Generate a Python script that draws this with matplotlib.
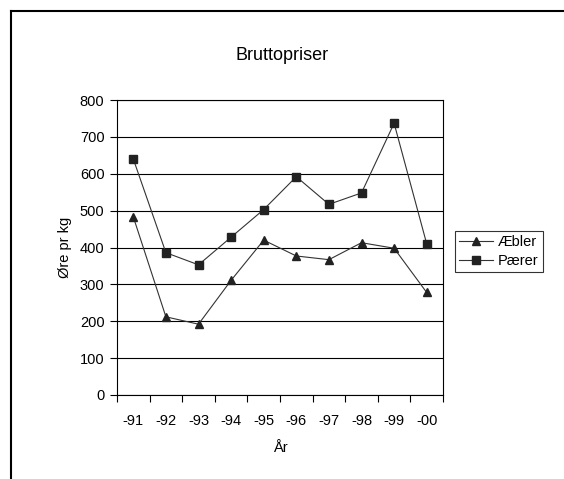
import numpy as np
import matplotlib.pyplot as plt
from matplotlib.lines import Line2D

plt.rcParams['font.family'] = ['Liberation Sans', 'DejaVu Sans']

years = ['-91', '-92', '-93', '-94', '-95', '-96', '-97', '-98', '-99', '-00']
aebler = [483, 212, 192, 311, 420, 377, 367, 413, 398, 278]
paerer = [640, 386, 353, 428, 503, 592, 517, 548, 737, 410]

fig = plt.figure(figsize=(5.64, 4.79), dpi=100)
ax = fig.add_axes([117 / 564, 84 / 479, 326 / 564, 295 / 479])

x = np.arange(len(years))
ax.plot(x, aebler, color='#333333', lw=0.8, marker='^', ms=6,
        mfc='#222222', mec='#222222', label='Æbler')
ax.plot(x, paerer, color='#333333', lw=0.8, marker='s', ms=5.5,
        mfc='#222222', mec='#222222', label='Pærer')

ax.set_xlim(-0.5, len(years) - 0.5)
ax.set_ylim(0, 800)
ax.set_yticks(range(0, 801, 100))
ax.set_xticks(x)
ax.set_xticklabels(years)
ax.set_xticks(np.arange(-0.5, len(years)), minor=True)
ax.tick_params(axis='x', which='major', length=0, pad=14, labelsize=10.5)
ax.tick_params(axis='x', which='minor', length=5, width=0.8, direction='out')
ax.tick_params(axis='y', length=5, width=0.8, direction='out', pad=4, labelsize=10.5)
ax.yaxis.grid(True, color='black', lw=0.8)
ax.set_axisbelow(True)
for s in ax.spines.values():
    s.set_linewidth(0.8)

ax.set_xlabel('År', fontsize=10.5, labelpad=9)
ax.set_ylabel('Øre pr kg', fontsize=10.5, labelpad=6)
fig.text(282 / 564, 1 - 55 / 479, 'Bruttopriser', ha='center', va='center', fontsize=13)

leg = ax.legend(loc='upper left', bbox_to_anchor=(455 / 564, 1 - 231 / 479),
                bbox_transform=fig.transFigure, fontsize=10.5, frameon=True,
                fancybox=False, edgecolor='black', borderpad=0.3,
                handlelength=2.3, handletextpad=0.35, labelspacing=0.3,
                borderaxespad=0)
leg.get_frame().set_linewidth(0.8)

# outer chart frame (runs off the right and bottom edges)
fig.add_artist(Line2D([10.5 / 564, 10.5 / 564], [1 - 10.5 / 479, -0.1],
                      transform=fig.transFigure, color='black', lw=1.5))
fig.add_artist(Line2D([10.5 / 564, 1.1], [1 - 10.5 / 479, 1 - 10.5 / 479],
                      transform=fig.transFigure, color='black', lw=1.5))

fig.savefig('out.png', dpi=100)
